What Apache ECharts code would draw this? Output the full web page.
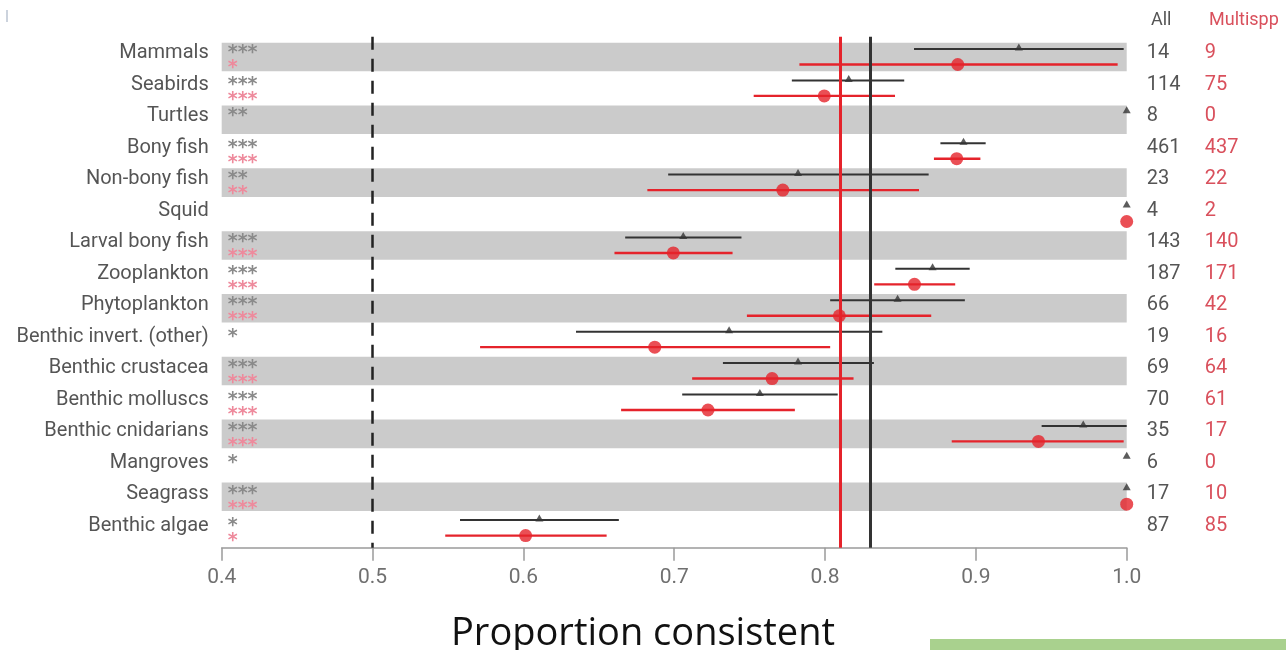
<!DOCTYPE html>
<html>
<head>
<meta charset="utf-8">
<script src="https://cdn.jsdelivr.net/npm/echarts@6/dist/echarts.min.js"></script>
<style>
html,body{margin:0;padding:0;background:#fff;}
#chart{width:1286px;height:650px;}
</style>
</head>
<body>
<div id="chart"></div>
<script>
// ---------- data ----------
const categories = ['Mammals','Seabirds','Turtles','Bony fish','Non-bony fish','Squid','Larval bony fish','Zooplankton','Phytoplankton','Benthic invert. (other)','Benthic crustacea','Benthic molluscs','Benthic cnidarians','Mangroves','Seagrass','Benthic algae'];

// "All" studies: estimate and confidence interval
const allEst = [0.9285, 0.8157, 1.0, 0.8918, 0.7821, 1.0, 0.706, 0.8713, 0.8481, 0.7364, 0.7821, 0.7568, 0.9712, 1.0, 1.0, 0.6106];
const allLo  = [0.859, 0.778, null, 0.8765, 0.696, null, 0.6675, 0.8466, 0.8034, 0.6349, 0.7323, 0.7053, 0.9436, null, null, 0.558];
const allHi  = [0.998, 0.8525, null, 0.9065, 0.8687, null, 0.7446, 0.8959, 0.8927, 0.838, 0.8324, 0.8084, 1.0, null, null, 0.6633];

// "Multispp" studies: estimate and confidence interval
const multiEst = [0.888, 0.7995, null, 0.8873, 0.772, 1.0, 0.6994, 0.8593, 0.8095, 0.6871, 0.7649, 0.7224, 0.9415, null, 1.0, 0.6015];
const multiLo  = [0.783, 0.7527, null, 0.8722, 0.6822, null, 0.6604, 0.8326, 0.7482, 0.5713, 0.7119, 0.6648, 0.884, null, null, 0.5482];
const multiHi  = [0.994, 0.8464, null, 0.903, 0.8623, null, 0.7387, 0.8863, 0.8704, 0.8034, 0.8189, 0.78, 0.998, null, null, 0.6552];

const nAll   = [14, 114, 8, 461, 23, 4, 143, 187, 66, 19, 69, 70, 35, 6, 17, 87];
const nMulti = [9, 75, 0, 437, 22, 2, 140, 171, 42, 16, 64, 61, 17, 0, 10, 85];

const starsAll   = ['***','***','**','***','**','','***','***','***','*','***','***','***','*','***','*'];
const starsMulti = ['*','***','','***','**','','***','***','***','','***','***','***','','***','*'];

const overallAll = 0.8294;
const overallMulti = 0.8125;
const referenceLine = 0.5;

const xMin = 0.4, xMax = 1.0, xStep = 0.1;

// ---------- chart ----------
const chart = echarts.init(document.getElementById('chart'), null, {renderer: 'canvas'});

const BLACK = '#333333';
const RED = '#e5232b';

function barSeries(lo, hi, color, dy, w) {
  const data = [];
  categories.forEach((c, i) => { if (lo[i] != null && hi[i] != null) data.push([lo[i], hi[i], i]); });
  return {
    type: 'custom', xAxisIndex: 0, yAxisIndex: 0, z: 3,
    data: data,
    encode: {x: [0, 1], y: 2},
    renderItem: function (params, api) {
      const p1 = api.coord([api.value(0), api.value(2)]);
      const p2 = api.coord([api.value(1), api.value(2)]);
      return {type: 'line', shape: {x1: p1[0], y1: p1[1] + dy, x2: p2[0], y2: p2[1] + dy},
              style: {stroke: color, lineWidth: w}};
    }
  };
}
function pointData(est) {
  const d = [];
  categories.forEach((c, i) => { if (est[i] != null) d.push([est[i], i]); });
  return d;
}

const bandRows = categories.map((c, i) => i).filter(i => i % 2 === 0);

const option = {
  animation: false,
  backgroundColor: '#ffffff',
  title: [
    {text: 'All', left: 1146, top: 6, textStyle: {fontFamily: 'Roboto', fontSize: 18, fontWeight: 'normal', color: '#555'}},
    {text: 'Multispp', left: 1204, top: 6, textStyle: {fontFamily: 'Roboto', fontSize: 18, fontWeight: 'normal', color: '#d9505c'}},
    {text: 'Proportion consistent', left: 'center', top: 610, textStyle: {fontFamily: 'Open Sans', fontSize: 38, fontWeight: 'normal', color: '#111'}}
  ],
  graphic: [
    {type: 'rect', left: 930, top: 639, shape: {width: 356, height: 11}, style: {fill: '#a9d18e'}},
    {type: 'rect', left: 6, top: 10, shape: {width: 2, height: 12}, style: {fill: '#ccd3dd'}}
  ],
  grid: [
    {left: 221.7, right: 159.3, top: 36.7, height: 511},
    {left: 221.7, right: 159.3, top: 37.5, height: 504}
  ],
  xAxis: [
    {
      gridIndex: 0, type: 'value', min: xMin, max: xMax, interval: xStep,
      axisLine: {show: true, onZero: false, lineStyle: {color: '#9a9a9a', width: 1.5}},
      axisTick: {show: true, length: 13, lineStyle: {color: '#9a9a9a', width: 1.5}},
      axisLabel: {fontFamily: 'Roboto', fontSize: 21, color: '#707070', margin: 20, formatter: v => v.toFixed(1)},
      splitLine: {show: false}
    },
    {gridIndex: 1, type: 'value', min: xMin, max: xMax, show: false, axisLine: {onZero: false}}
  ],
  yAxis: [
    {gridIndex: 0, type: 'value', inverse: true, min: -0.646, max: 15.624, show: false, axisLine: {onZero: false}},
    {
      gridIndex: 1, type: 'category', inverse: true, data: categories,
      axisLine: {show: false}, axisTick: {show: false}, splitLine: {show: false},
      axisLabel: {fontFamily: 'Roboto', fontSize: 20, color: '#555', margin: 13}
    },
    {
      gridIndex: 1, type: 'category', inverse: true, position: 'right', data: categories,
      axisLine: {show: false}, axisTick: {show: false}, splitLine: {show: false},
      axisLabel: {
        margin: 20, align: 'left',
        formatter: (v, i) => '{a|' + nAll[i] + '}{b|' + nMulti[i] + '}',
        rich: {
          a: {width: 58, fontFamily: 'Roboto', fontSize: 20, color: '#555'},
          b: {fontFamily: 'Roboto', fontSize: 20, color: '#d9505c'}
        }
      }
    }
  ],
  series: [
    // alternating grey bands
    {
      type: 'custom', xAxisIndex: 0, yAxisIndex: 0, z: 0, silent: true,
      data: bandRows.map(i => [xMin, xMax, i]),
      encode: {x: [0, 1], y: 2},
      renderItem: function (params, api) {
        const p1 = api.coord([api.value(0), api.value(2)]);
        const p2 = api.coord([api.value(1), api.value(2)]);
        const h = api.size([0, 1])[1] * 0.908;
        return {type: 'rect', shape: {x: p1[0], y: p1[1] - h / 2, width: p2[0] - p1[0], height: h},
                style: {fill: '#cbcbcb'}};
      }
    },
    // reference lines
    {
      type: 'line', xAxisIndex: 0, yAxisIndex: 0, data: [], z: 2,
      markLine: {
        silent: true, symbol: 'none', label: {show: false},
        data: [
          {xAxis: referenceLine, lineStyle: {color: '#222', width: 2.5, type: [13, 9]}},
          {xAxis: overallMulti, lineStyle: {color: RED, width: 3, type: 'solid'}},
          {xAxis: overallAll, lineStyle: {color: BLACK, width: 3, type: 'solid'}}
        ]
      }
    },
    barSeries(allLo, allHi, BLACK, -8, 2),
    barSeries(multiLo, multiHi, RED, 7.5, 2.4),
    {
      type: 'scatter', xAxisIndex: 0, yAxisIndex: 0, z: 4,
      data: pointData(allEst), symbol: 'triangle', symbolSize: [8, 7], symbolOffset: [0, -10],
      itemStyle: {color: BLACK}
    },
    {
      type: 'scatter', xAxisIndex: 0, yAxisIndex: 0, z: 4,
      data: pointData(multiEst), symbol: 'circle', symbolSize: 13, symbolOffset: [0, 7.5],
      itemStyle: {color: RED}
    },
    // significance stars
    {
      type: 'custom', xAxisIndex: 1, yAxisIndex: 1, z: 5, silent: true,
      data: categories.map((c, i) => [xMin, i]),
      encode: {x: 0, y: 1},
      renderItem: function (params, api) {
        const i = api.value(1);
        const p = api.coord([api.value(0), i]);
        return {
          type: 'group',
          children: [
            {type: 'text', style: {text: starsAll[i], x: p[0] + 6, y: p[1] + 0, fill: '#8a8a8a',
              font: 'bold 19px "DejaVu Sans"', textAlign: 'left', textVerticalAlign: 'middle'}},
            {type: 'text', style: {text: starsMulti[i], x: p[0] + 6, y: p[1] + 15, fill: '#ee8a9c',
              font: 'bold 19px "DejaVu Sans"', textAlign: 'left', textVerticalAlign: 'middle'}}
          ]
        };
      }
    }
  ]
};
chart.setOption(option);
</script>
</body>
</html>
